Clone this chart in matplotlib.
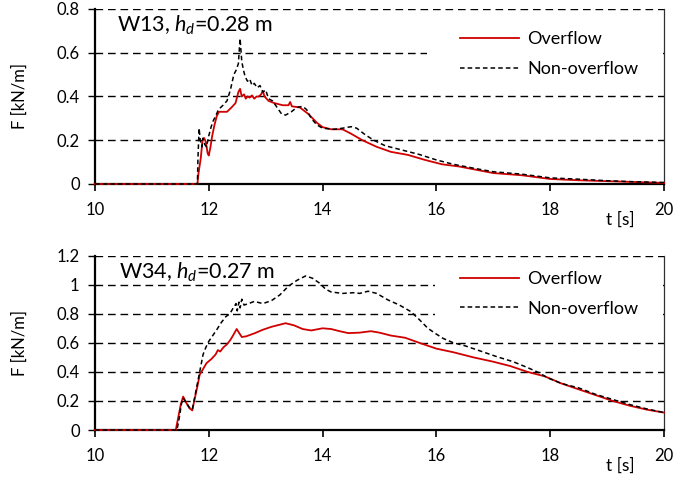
import matplotlib
matplotlib.use("Agg")
import matplotlib.pyplot as plt
from matplotlib.patches import Rectangle

plt.rcParams['font.family'] = ['Lato', 'DejaVu Sans']
plt.rcParams['mathtext.fontset'] = 'custom'
plt.rcParams['mathtext.rm'] = 'Lato'
plt.rcParams['mathtext.it'] = 'Lato:italic'

# ---------------- data ----------------
top_title = "W13, $h_d$=0.28 m"
bot_title = "W34, $h_d$=0.27 m"
series_labels = ["Overflow", "Non-overflow"]
x_ticks = [10, 12, 14, 16, 18, 20]
top_yticks = [0, 0.2, 0.4, 0.6, 0.8]
top_yticklabels = ["0", "0.2", "0.4", "0.6", "0.8"]
bot_yticks = [0, 0.2, 0.4, 0.6, 0.8, 1.0, 1.2]
bot_yticklabels = ["0", "0.2", "0.4", "0.6", "0.8", "1", "1.2"]

top_over_t = [10, 11.80, 11.82, 11.86, 11.89, 11.92, 11.95, 11.98, 12.00, 12.03, 12.06, 12.10,
              12.14, 12.18, 12.25, 12.32, 12.40, 12.47, 12.52, 12.55, 12.58, 12.62, 12.65, 12.68,
              12.72, 12.76, 12.80, 12.84, 12.88, 12.92, 12.95, 12.98, 13.05, 13.15, 13.30, 13.40,
              13.43, 13.46, 13.60, 13.75, 13.90, 14.00, 14.15, 14.35, 14.50, 14.70, 14.95, 15.20,
              15.50, 15.80, 16.10, 16.40, 16.70, 17.00, 17.50, 18.00, 18.50, 19.00, 19.50, 20.00]
top_over_F = [0, 0, 0.05, 0.12, 0.20, 0.21, 0.19, 0.14, 0.13, 0.17, 0.22, 0.27,
              0.31, 0.33, 0.33, 0.33, 0.35, 0.37, 0.42, 0.435, 0.40, 0.41, 0.39, 0.40,
              0.395, 0.405, 0.39, 0.40, 0.40, 0.41, 0.425, 0.40, 0.38, 0.37, 0.36, 0.36,
              0.375, 0.355, 0.35, 0.32, 0.28, 0.26, 0.25, 0.25, 0.23, 0.20, 0.17, 0.147,
              0.133, 0.11, 0.09, 0.08, 0.065, 0.05, 0.04, 0.023, 0.017, 0.013, 0.009, 0.005]

top_non_t = [10, 11.80, 11.81, 11.83, 11.85, 11.88, 11.90, 11.93, 11.96, 12.00, 12.04, 12.08,
             12.12, 12.17, 12.25, 12.32, 12.38, 12.44, 12.48, 12.52, 12.55, 12.58, 12.61, 12.64,
             12.68, 12.72, 12.76, 12.80, 12.85, 12.90, 12.95, 13.00, 13.05, 13.12, 13.20, 13.28,
             13.35, 13.45, 13.55, 13.65, 13.72, 13.80, 13.90, 14.00, 14.20, 14.35, 14.50, 14.60,
             14.75, 14.90, 15.10, 15.40, 15.70, 16.00, 16.30, 16.70, 17.00, 17.50, 18.00, 18.50,
             19.00, 19.50, 20.00]
top_non_F = [0, 0, 0.12, 0.255, 0.20, 0.17, 0.21, 0.18, 0.17, 0.22, 0.26, 0.29,
             0.31, 0.34, 0.36, 0.38, 0.43, 0.50, 0.52, 0.55, 0.665, 0.56, 0.52, 0.49,
             0.47, 0.48, 0.45, 0.46, 0.44, 0.45, 0.42, 0.43, 0.39, 0.38, 0.35, 0.32,
             0.315, 0.33, 0.35, 0.355, 0.34, 0.30, 0.27, 0.255, 0.25, 0.255, 0.262, 0.255,
             0.225, 0.20, 0.175, 0.155, 0.135, 0.11, 0.09, 0.07, 0.056, 0.045, 0.028, 0.022,
             0.015, 0.01, 0.007]

bot_over_t = [10, 11.42, 11.46, 11.51, 11.55, 11.60, 11.66, 11.71, 11.75, 11.80, 11.84, 11.90,
              11.96, 12.05, 12.12, 12.16, 12.20, 12.26, 12.32, 12.38, 12.44, 12.49, 12.53, 12.58,
              12.66, 12.80, 12.95, 13.10, 13.20, 13.35, 13.50, 13.65, 13.80, 14.00, 14.15, 14.30,
              14.45, 14.65, 14.85, 15.00, 15.20, 15.45, 15.70, 16.00, 16.30, 16.65, 17.00, 17.30,
              17.60, 17.90, 18.20, 18.50, 18.80, 19.10, 19.40, 19.70, 20.00]
bot_over_F = [0, 0, 0.08, 0.18, 0.23, 0.19, 0.15, 0.135, 0.21, 0.30, 0.38, 0.42,
              0.46, 0.49, 0.52, 0.55, 0.54, 0.57, 0.59, 0.62, 0.66, 0.695, 0.67, 0.64,
              0.645, 0.665, 0.69, 0.71, 0.72, 0.735, 0.72, 0.695, 0.685, 0.70, 0.695, 0.68,
              0.667, 0.67, 0.68, 0.67, 0.65, 0.635, 0.60, 0.56, 0.535, 0.50, 0.47, 0.44,
              0.40, 0.37, 0.32, 0.28, 0.24, 0.20, 0.167, 0.14, 0.12]

bot_non_t = [10, 11.44, 11.48, 11.52, 11.55, 11.60, 11.66, 11.71, 11.75, 11.80, 11.85, 11.90,
             11.95, 12.00, 12.07, 12.14, 12.22, 12.30, 12.37, 12.43, 12.48, 12.50, 12.53, 12.55,
             12.58, 12.62, 12.70, 12.80, 12.95, 13.10, 13.25, 13.40, 13.55, 13.70, 13.82, 13.95,
             14.05, 14.15, 14.35, 14.55, 14.65, 14.80, 14.95, 15.15, 15.35, 15.55, 15.70, 15.85,
             16.00, 16.12, 16.30, 16.50, 16.80, 17.06, 17.35, 17.60, 17.80, 17.95, 18.20, 18.50,
             18.80, 19.10, 19.40, 19.70, 20.00]
bot_non_F = [0, 0, 0.08, 0.18, 0.22, 0.19, 0.155, 0.14, 0.22, 0.32, 0.42, 0.52,
             0.57, 0.61, 0.65, 0.69, 0.74, 0.78, 0.80, 0.84, 0.87, 0.82, 0.88, 0.84,
             0.90, 0.86, 0.87, 0.885, 0.87, 0.89, 0.93, 0.99, 1.03, 1.06, 1.045, 1.01,
             0.97, 0.95, 0.94, 0.945, 0.94, 0.955, 0.94, 0.895, 0.86, 0.815, 0.76, 0.70,
             0.66, 0.63, 0.60, 0.58, 0.54, 0.505, 0.47, 0.43, 0.395, 0.36, 0.32, 0.29,
             0.245, 0.21, 0.175, 0.145, 0.12]

# ---------------- figure ----------------
fig = plt.figure(figsize=(6.75, 4.86), dpi=100)
ax1 = fig.add_axes([0.1407, 0.6214, 0.8430, 0.3601])
ax2 = fig.add_axes([0.1407, 0.1152, 0.8430, 0.3588])

RED = '#D00000'
GRID_LS = (0, (5.5, 3.5))


def style(ax, yticks, yticklabels, ymax, title, title_xy, leg_y, rect):
    ax.set_xlim(10, 20)
    ax.set_ylim(0, ymax)
    ax.set_xticks(x_ticks)
    ax.set_xticklabels([str(v) for v in x_ticks])
    ax.set_yticks(yticks)
    ax.set_yticklabels(yticklabels)
    ax.set_axisbelow(True)
    ax.yaxis.grid(True, color='black', linestyle=GRID_LS, linewidth=1.0, zorder=0.5)
    ax.spines['top'].set_visible(False)
    ax.spines['left'].set_linewidth(1.6)
    ax.spines['bottom'].set_linewidth(1.6)
    ax.spines['right'].set_linewidth(0.9)
    ax.spines['right'].set_color('#303030')
    ax.tick_params(axis='x', direction='out', length=5, width=1.2, pad=8, labelsize=12)
    ax.tick_params(axis='y', direction='out', length=5, width=1.0, pad=6, labelsize=12)
    ax.set_ylabel("F [kN/m]", fontsize=12)
    ax.yaxis.set_label_coords(-0.118, 0.5)
    ax.text(title_xy[0], title_xy[1], title, transform=ax.transAxes,
            fontsize=15.5, ha='left', va='center')
    ax.text(0.949, -0.205, "t [s]", transform=ax.transAxes, fontsize=12.5,
            ha='right', va='center')
    ax.add_patch(Rectangle((rect[0], rect[1]), 1 - rect[0] - 0.002, rect[2],
                           transform=ax.transAxes, facecolor='white',
                           edgecolor='none', zorder=1))
    leg = ax.legend(loc='center left', bbox_to_anchor=(0.641, leg_y), frameon=False,
                    fontsize=13, handlelength=3.3, handletextpad=0.45,
                    labelspacing=0.75, borderpad=0, borderaxespad=0)
    return leg


ax1.plot(top_over_t, top_over_F, color=RED, lw=1.3, label=series_labels[0],
         zorder=3, clip_on=False)
ax1.plot(top_non_t, top_non_F, color='black', lw=1.1, linestyle=(0, (3, 2)),
         label=series_labels[1], zorder=4, clip_on=False)
style(ax1, top_yticks, top_yticklabels, 0.8, top_title, (0.038, 0.905), 0.742,
      (0.583, 0.57, 0.40))

ax2.plot(bot_over_t, bot_over_F, color=RED, lw=1.3, label=series_labels[0],
         zorder=3, clip_on=False)
ax2.plot(bot_non_t, bot_non_F, color='black', lw=1.1, linestyle=(0, (3, 2)),
         label=series_labels[1], zorder=4, clip_on=False)
style(ax2, bot_yticks, bot_yticklabels, 1.2, bot_title, (0.043, 0.905), 0.78,
      (0.598, 0.55, 0.40))

fig.savefig("out.png", dpi=100)
